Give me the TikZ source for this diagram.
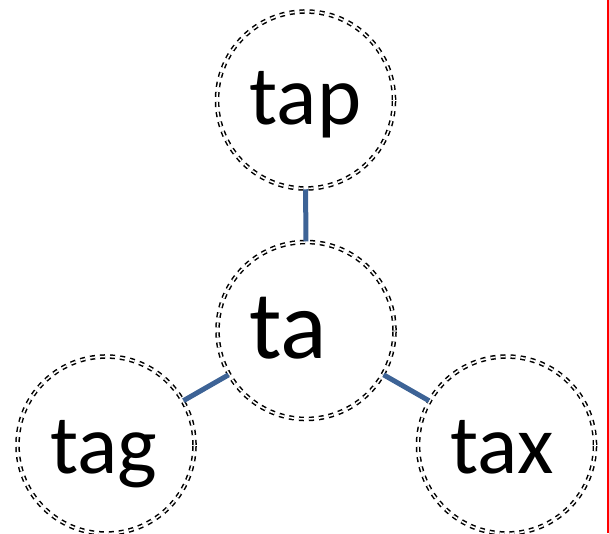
\documentclass[tikz,border=0pt]{standalone}
\usepackage{fontspec}
\setmainfont{Carlito}
\definecolor{linkblue}{HTML}{3D6396}
\begin{document}
\begin{tikzpicture}[x=1pt,y=-1pt,
  word/.style={circle, minimum size=177pt, inner sep=0pt,
    draw=black, line width=1.5pt, double=white, double distance=1.6pt,
    dash pattern=on 5pt off 5pt, text depth=12pt},
  link/.style={draw=linkblue, line width=5pt}]
\useasboundingbox (0,0) rectangle (609,533);
\clip (0,0) rectangle (609,533);
\node[word, text height=60pt, font=\fontsize{84}{90}\selectfont] (tap) at (305.5,100) {tap};
\node[word, text height=68pt, font=\fontsize{97}{110}\selectfont] (ta) at (306,330.5) {ta\kern36pt};
\node[word, text height=68pt, font=\fontsize{84}{90}\selectfont] (tag) at (106,445) {tag\kern5pt};
\node[word, text height=68pt, font=\fontsize{84}{90}\selectfont] (tax) at (506.5,445) {tax\kern9pt};
\draw[link] (tap) -- (ta);
\draw[link] (ta) -- (tag);
\draw[link] (ta) -- (tax);
\coordinate (rt) at (608,0);
\coordinate (rb) at (608,533);
\draw[red, line width=1.2pt] (rt) -- (rb);
\end{tikzpicture}
\end{document}
